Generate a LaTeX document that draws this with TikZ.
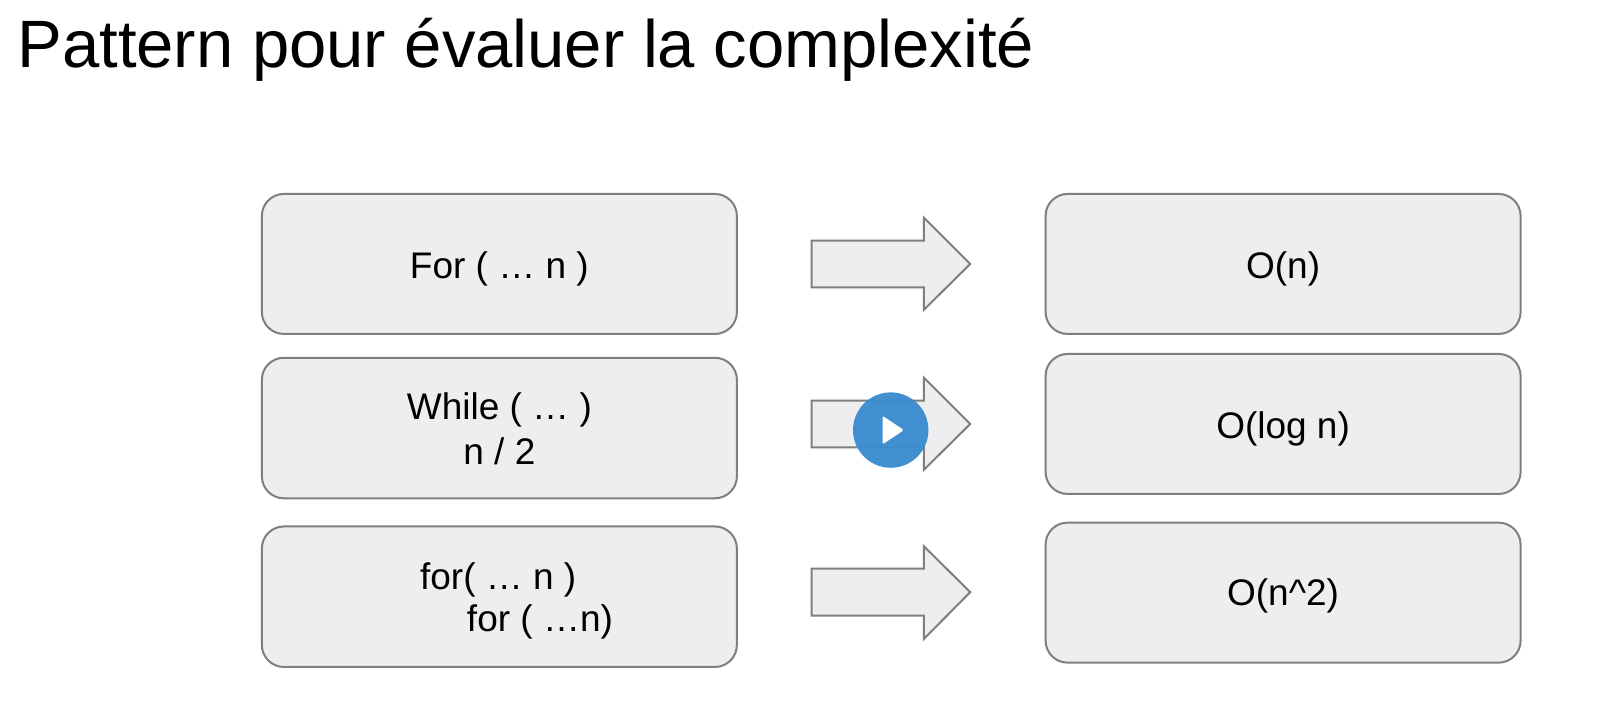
\documentclass[tikz,border=0pt]{standalone}
\usepackage{fontspec}
\setmainfont{Liberation Sans}
\definecolor{boxfill}{HTML}{EEEEF0}
\definecolor{boxline}{HTML}{7F7F7F}
\definecolor{playblue}{HTML}{3A8CCF}
\tikzset{
  x=1.0191pt,y=-1.0191pt,
  rbox/.style={draw=boxline,fill=boxfill,line width=2pt,rounded corners=22pt,minimum width=475pt,inner sep=0pt},
  bigarrow/.style={draw=boxline,fill=boxfill,line width=2pt,line join=miter},
  lbl/.style={font=\fontsize{37}{44}\selectfont,inner sep=0pt,anchor=base},
  lblw/.style={lbl,anchor=base west},
}
\begin{document}
\begin{tikzpicture}
\useasboundingbox (0,0) rectangle (1568,701.6);
\fill[white] (0,0) rectangle (1568,701.6);
\node[anchor=base west,inner sep=0pt,font=\fontsize{67}{67}\selectfont] (title) at (17,66) {Pattern pour évaluer la complexité};
\node[rbox,minimum height=140pt] (a1) at (490,259) {};
\node[rbox,minimum height=140.5pt] (a2) at (490,420) {};
\node[rbox,minimum height=140.5pt] (a3) at (490,585.5) {};
\node[rbox,minimum height=140pt] (b1) at (1259,259) {};
\node[rbox,minimum height=140pt] (b2) at (1259,416) {};
\node[rbox,minimum height=140pt] (b3) at (1259,581.5) {};
\node[lbl] (t1) at (490,273) {For ( … n )};
\node[lbl] (t2a) at (490,412) {While ( … )};
\node[lbl] (t2b) at (490,456) {n / 2};
\node[lblw] (t3a) at (412,578) {for( … n )};
\node[lblw] (t3b) at (458,620) {for ( …n)};
\node[lbl] (u1) at (1259,273) {O(n)};
\node[lbl] (u2) at (1259,430) {O(log n)};
\node[lbl] (u3) at (1259,594) {O(n\^{}2)};
\draw[bigarrow] (796.5,236) -- (906.5,236) -- (906.5,213.5) -- (952,259) -- (906.5,304) -- (906.5,282) -- (796.5,282) -- cycle;
\draw[bigarrow] (796.5,393) -- (906.5,393) -- (906.5,370.5) -- (952,416) -- (906.5,461) -- (906.5,439) -- (796.5,439) -- cycle;
\draw[bigarrow] (796.5,558) -- (906.5,558) -- (906.5,536) -- (952,581) -- (906.5,627) -- (906.5,604) -- (796.5,604) -- cycle;
\foreach \r in {39,41,...,65} {\fill[black,opacity=0.0015] (874,424) circle (\r);}
\node[circle,fill=playblue,fill opacity=0.96,minimum size=75.4pt,inner sep=0pt] (play) at (874,422) {};
\fill[white,rounded corners=1.5pt] (866,408) -- (887,422) -- (866,436) -- cycle;
\end{tikzpicture}
\end{document}
